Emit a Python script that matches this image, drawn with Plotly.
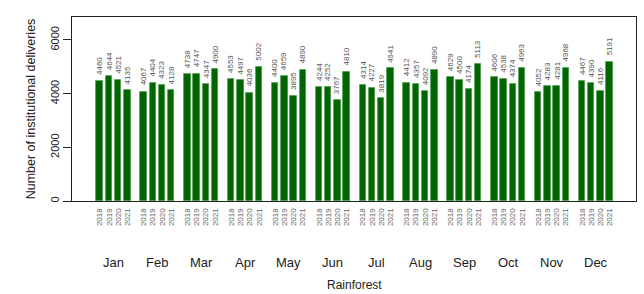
import plotly.graph_objects as go

months = ["Jan", "Feb", "Mar", "Apr", "May", "Jun", "Jul", "Aug", "Sep", "Oct", "Nov", "Dec"]
years = ["2018", "2019", "2020", "2021"]
v2018 = [4460, 4067, 4738, 4553, 4400, 4244, 4314, 4412, 4629, 4606, 4052, 4467]
v2019 = [4644, 4404, 4747, 4497, 4659, 4252, 4227, 4357, 4500, 4538, 4283, 4390]
v2020 = [4521, 4323, 4347, 4036, 3895, 3767, 3819, 4092, 4174, 4374, 4281, 4116]
v2021 = [4135, 4128, 4900, 5002, 4890, 4810, 4941, 4890, 5113, 4963, 4968, 5191]
series = [v2018, v2019, v2020, v2021]
y_ticks = [0, 2000, 4000, 6000]

GROUP = 4.75
xs, ys, labels = [], [], []
for g in range(len(months)):
    for j, s in enumerate(series):
        xs.append(g * GROUP + j)
        ys.append(s[g])
        labels.append(years[j])

fig = go.Figure()
fig.add_trace(go.Bar(
    x=xs, y=ys, width=0.7,
    marker=dict(color="#006400", line=dict(color="#4e9a4e", width=0.8)),
    hoverinfo="x+y",
))

for x, y in zip(xs, ys):
    fig.add_annotation(x=x, y=y, xref="x", yref="y", text=str(y), showarrow=False,
                       textangle=-90, yanchor="bottom", yshift=4,
                       font=dict(family="Liberation Sans, Arial", size=8, color="#555555"))

for g, m in enumerate(months):
    fig.add_annotation(x=g * GROUP + 1.5, y=-0.335, xref="x", yref="paper",
                       text=m, showarrow=False, yanchor="middle",
                       font=dict(family="Liberation Sans, Arial", size=13, color="#222222"))
fig.add_annotation(x=0.5, y=-0.455, xref="paper", yref="paper", text="Rainforest",
                   showarrow=False, yanchor="middle",
                   font=dict(family="Liberation Sans, Arial", size=12, color="#222222"))

fig.update_layout(
    width=644, height=294,
    margin=dict(l=72, r=8, t=17, b=93),
    paper_bgcolor="white", plot_bgcolor="white",
    showlegend=False, bargap=0,
    xaxis=dict(range=[-3.0, 58.1], tickvals=xs, ticktext=labels, tickangle=-90,
               tickfont=dict(family="Liberation Sans, Arial", size=8, color="#666666"),
               showgrid=False, zeroline=False, showline=True, mirror=True,
               linecolor="#222222", linewidth=1.2, ticks="", ticklabelstandoff=3),
    yaxis=dict(range=[0, 6855], tickvals=y_ticks, tickangle=-90,
               tickfont=dict(family="Liberation Sans, Arial", size=11, color="#222222"),
               showgrid=False, zeroline=False, showline=True, mirror=True,
               linecolor="#222222", linewidth=1.2, ticks="outside", ticklen=8,
               tickcolor="#222222",
               title=dict(text="Number of institutional deliveries", standoff=10,
                          font=dict(family="Liberation Sans, Arial", size=12.5, color="#222222"))),
)

fig.write_html("out.html", config={"displayModeBar": False})
with open("out.html", encoding="utf-8") as f:
    html = f.read()
html = html.replace("<body>", '<body style="margin:0;padding:0;overflow:hidden">', 1)
with open("out.html", "w", encoding="utf-8") as f:
    f.write(html)
